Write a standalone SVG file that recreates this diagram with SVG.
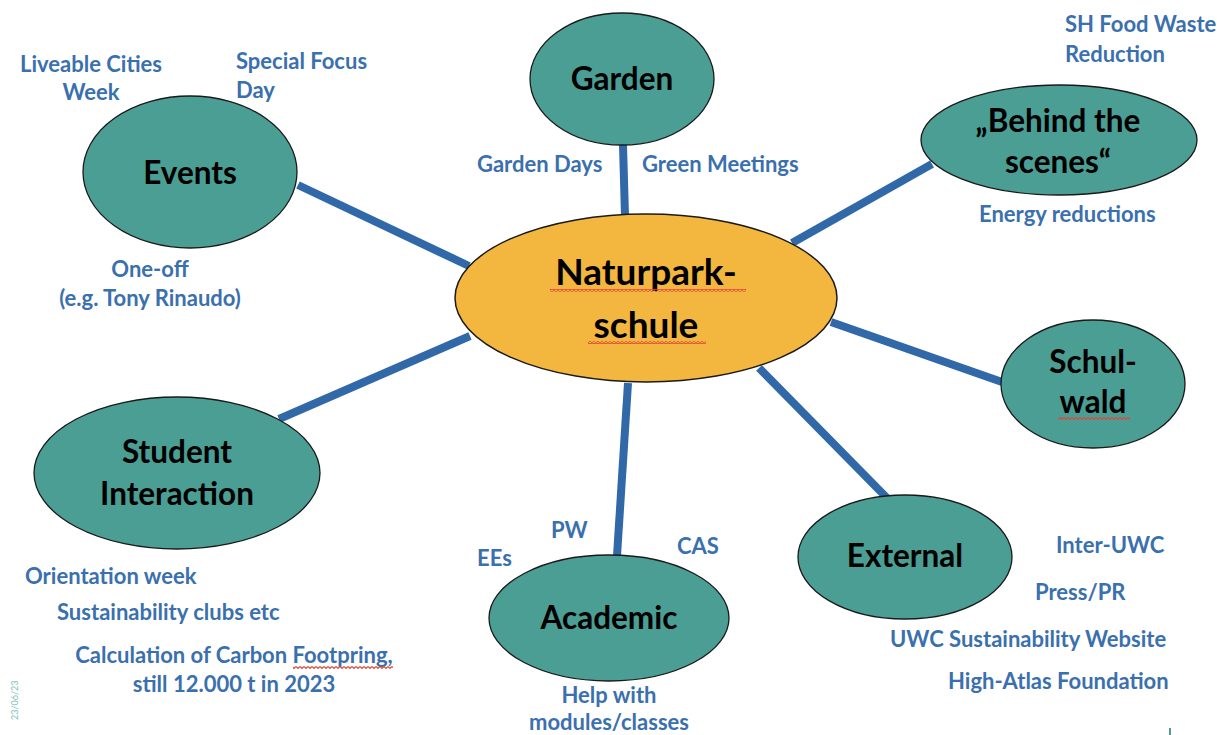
<svg xmlns="http://www.w3.org/2000/svg" width="1219" height="735" viewBox="0 0 1219 735">
  <style>
    .node { fill: #4A9E94; stroke: #1a1a1a; stroke-width: 1.3; }
    .hub { fill: #F3B63F; stroke: #1a1a1a; stroke-width: 1.5; }
    .title { font-family: "Lato", "Liberation Sans", sans-serif; font-weight: bold; font-size: 31.5px; fill: #000; text-anchor: middle; }
    .hubtitle { font-family: "Lato", "Liberation Sans", sans-serif; font-weight: bold; font-size: 37px; fill: #000; text-anchor: middle; }
    .lbl { font-family: "Lato", "Liberation Sans", sans-serif; font-weight: bold; font-size: 22px; fill: #3A70AE; }
    .mid { text-anchor: middle; }
    .link { stroke: #3068A8; stroke-width: 8; stroke-linecap: butt; }
  </style>
  <defs>
    <!-- wavy spell-check underline -->
    <pattern id="squiggle" width="4" height="3" patternUnits="userSpaceOnUse">
      <polyline points="0,0.5 2,2.5 4,0.5" fill="none" stroke="#E0473A" stroke-width="1.1"/>
    </pattern>
  </defs>

  <!-- spokes from the hub to each topic -->
  <g id="connectors">
    <line class="link" x1="623" y1="145" x2="625" y2="216"/>
    <line class="link" x1="298" y1="185" x2="469" y2="266"/>
    <line class="link" x1="792" y1="243" x2="932" y2="164"/>
    <line class="link" x1="831" y1="322" x2="1002" y2="382"/>
    <line class="link" x1="759" y1="368" x2="888" y2="499"/>
    <line class="link" x1="628" y1="383" x2="617" y2="556"/>
    <line class="link" x1="470" y1="336" x2="279" y2="419"/>
  </g>

  <g id="hub">
    <ellipse class="hub" cx="646" cy="298" rx="191" ry="84"/>
    <text class="hubtitle" x="646" y="285">Naturpark-</text>
    <text class="hubtitle" x="646" y="338">schule</text>
    <rect x="550" y="289" width="196" height="3" fill="url(#squiggle)"/>
    <rect x="588" y="341" width="118" height="3" fill="url(#squiggle)"/>
  </g>

  <g id="garden">
    <ellipse class="node" cx="622" cy="79" rx="92" ry="66"/>
    <text class="title" x="622" y="90">Garden</text>
    <text class="lbl" x="477" y="172">Garden Days</text>
    <text class="lbl" x="642" y="172">Green Meetings</text>
  </g>

  <g id="events">
    <ellipse class="node" cx="190" cy="172" rx="107" ry="76"/>
    <text class="title" x="190" y="184">Events</text>
    <text class="lbl mid" x="91" y="72">Liveable Cities</text>
    <text class="lbl mid" x="91" y="100">Week</text>
    <text class="lbl" x="236" y="69">Special Focus</text>
    <text class="lbl" x="236" y="98">Day</text>
    <text class="lbl mid" x="150" y="277">One-off</text>
    <text class="lbl mid" x="150" y="306">(e.g. Tony Rinaudo)</text>
  </g>

  <g id="behind-the-scenes">
    <ellipse class="node" cx="1059" cy="140" rx="138" ry="55"/>
    <text class="title" x="1058" y="132">„Behind the</text>
    <text class="title" x="1058" y="173">scenes“</text>
    <text class="lbl" x="1065" y="32">SH Food Waste</text>
    <text class="lbl" x="1065" y="62">Reduction</text>
    <text class="lbl" x="979" y="222">Energy reductions</text>
  </g>

  <g id="schulwald">
    <ellipse class="node" cx="1093" cy="384" rx="92" ry="64"/>
    <text class="title" x="1093" y="373">Schul-</text>
    <text class="title" x="1093" y="413">wald</text>
    <rect x="1058" y="417" width="72" height="3" fill="url(#squiggle)"/>
  </g>

  <g id="external">
    <ellipse class="node" cx="905" cy="557" rx="107" ry="62"/>
    <text class="title" x="905" y="567">External</text>
    <text class="lbl" x="1056" y="553">Inter-UWC</text>
    <text class="lbl" x="1035" y="600">Press/PR</text>
    <text class="lbl" x="890" y="647">UWC Sustainability Website</text>
    <text class="lbl" x="948" y="689">High-Atlas Foundation</text>
  </g>

  <g id="academic">
    <ellipse class="node" cx="609" cy="618" rx="120" ry="63"/>
    <text class="title" x="609" y="629">Academic</text>
    <text class="lbl" x="551" y="538">PW</text>
    <text class="lbl" x="477" y="566">EEs</text>
    <text class="lbl" x="677" y="554">CAS</text>
    <text class="lbl mid" x="609" y="703">Help with</text>
    <text class="lbl mid" x="609" y="730">modules/classes</text>
  </g>

  <g id="student-interaction">
    <ellipse class="node" cx="177" cy="473" rx="143" ry="76"/>
    <text class="title" x="177" y="463">Student</text>
    <text class="title" x="177" y="505">Interaction</text>
    <text class="lbl" x="25" y="584">Orientation week</text>
    <text class="lbl" x="57" y="620">Sustainability clubs etc</text>
    <text class="lbl mid" x="234" y="663">Calculation of Carbon Footpring,</text>
    <text class="lbl mid" x="234" y="692">still 12.000 t in 2023</text>
    <rect x="293" y="666" width="100" height="3" fill="url(#squiggle)"/>
  </g>

  <!-- slide footer: date and page mark -->
  <text x="18" y="720" transform="rotate(-90 18 720)" font-family="Lato, 'Liberation Sans', sans-serif" font-size="9" fill="#7CC0B8">23/06/23</text>
  <line x1="1170" y1="728" x2="1170" y2="735" stroke="#4A9E94" stroke-width="2"/>
</svg>
